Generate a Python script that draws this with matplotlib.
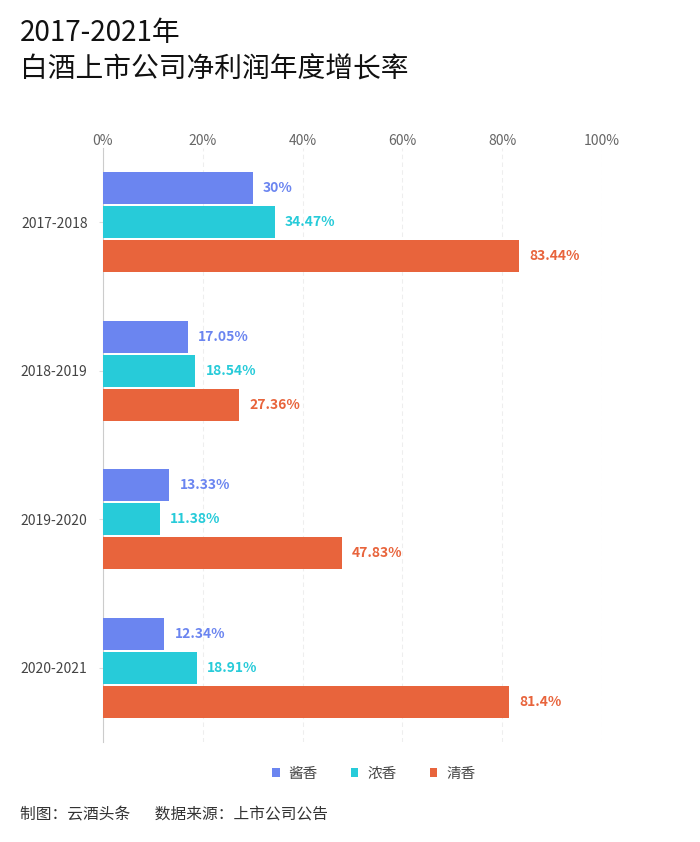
import numpy as np
import matplotlib.pyplot as plt

plt.rcParams['font.family'] = ['Noto Sans CJK SC', 'DejaVu Sans']

periods = ['2017-2018', '2018-2019', '2019-2020', '2020-2021']
series = ['酱香', '浓香', '清香']
jiang = [30, 17.05, 13.33, 12.34]
nong = [34.47, 18.54, 11.38, 18.91]
qing = [83.44, 27.36, 47.83, 81.4]
labels = [['30%', '17.05%', '13.33%', '12.34%'],
          ['34.47%', '18.54%', '11.38%', '18.91%'],
          ['83.44%', '27.36%', '47.83%', '81.4%']]
colors = ['#6b85f0', '#27cbd9', '#e8643c']
xticks = [0, 20, 40, 60, 80, 100]

fig = plt.figure(figsize=(7, 8.42), dpi=100)
ax = fig.add_axes([0.147, 0.1188, 0.713, 0.7054])

y = np.arange(len(periods))
h = 0.215
step = 0.229
for i, vals in enumerate([jiang, nong, qing]):
    pos = y + (i - 1) * step
    ax.barh(pos, vals, height=h, color=colors[i], label=series[i], zorder=3)
    for p, v, t in zip(pos, vals, labels[i]):
        ax.text(v + 2, p, t, va='center', ha='left', color=colors[i],
                fontsize=10, fontweight='bold')

ax.set_xlim(0, 100)
ax.set_ylim(len(periods) - 0.5, -0.5)
ax.set_yticks(y)
ax.set_yticklabels(periods, fontsize=10, color='#444444')
ax.set_xticks(xticks)
ax.set_xticklabels([f'{t}%' for t in xticks], fontsize=10, color='#666666')
ax.xaxis.tick_top()
ax.tick_params(axis='x', length=0, pad=0)
ax.tick_params(axis='y', length=3, color='#dddddd', pad=8)
ax.grid(axis='x', color='#eeeeee', linestyle=(0, (4, 3)), linewidth=0.8, zorder=0)
for s in ['top', 'right', 'bottom']:
    ax.spines[s].set_visible(False)
ax.spines['left'].set_color('#cccccc')

fig.legend(loc='center', bbox_to_anchor=(0.534, 0.081), ncol=3, frameon=False,
           fontsize=10.5, handlelength=0.5, handleheight=0.5, columnspacing=2.3,
           handletextpad=0.6, labelcolor='#444444')

fig.text(20 / 700, 1 - 33 / 842, '2017-2021年', fontsize=20, va='center', ha='left', color='#111111')
fig.text(20 / 700, 1 - 70 / 842, '白酒上市公司净利润年度增长率', fontsize=20, va='center', ha='left', color='#111111')
fig.text(20 / 700, 1 - 815 / 842, '制图：云酒头条       数据来源：上市公司公告', fontsize=11.3,
         va='center', ha='left', color='#333333')

fig.savefig('out.png', dpi=100)
